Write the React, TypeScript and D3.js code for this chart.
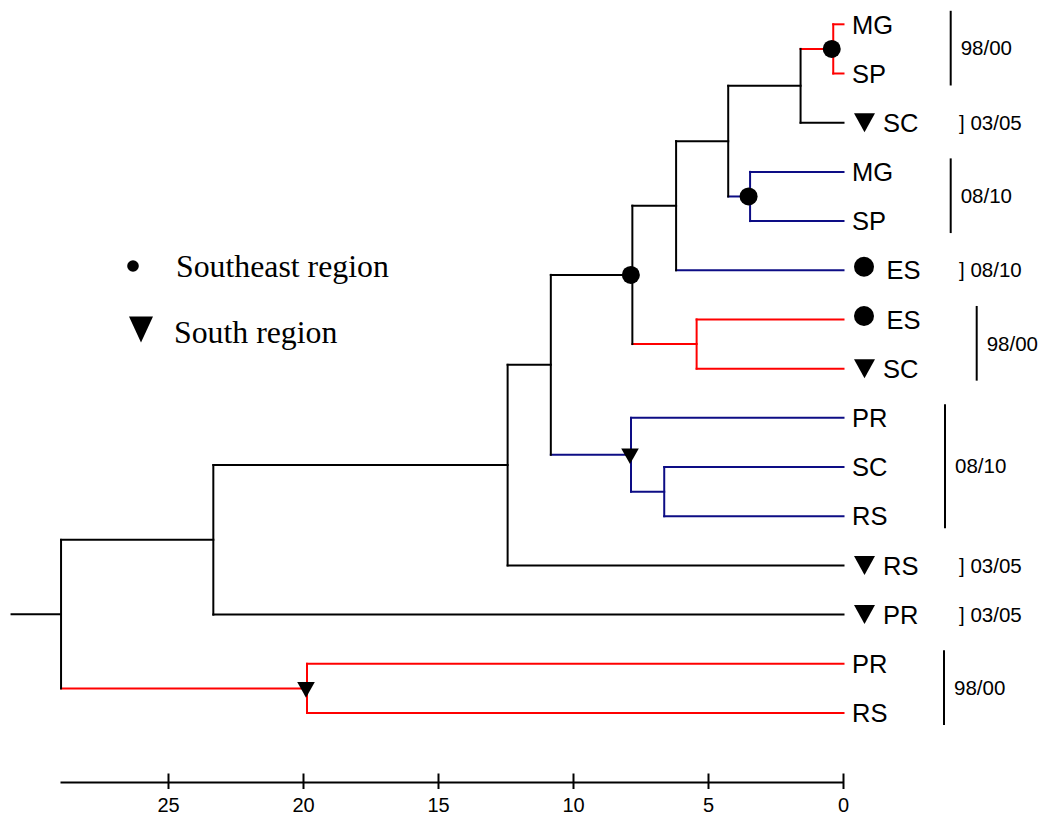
import React from "react";
import * as d3 from "d3";

// ---- Data ----
const leafLabels = ["MG", "SP", "SC", "MG", "SP", "ES", "ES", "SC", "PR", "SC", "RS", "RS", "PR", "PR", "RS"];
const leafParents = ["H", "H", "C", "G", "G", "E", "I", "I", "K", "L", "L", "M", "A", "B", "B"];
const leafColors = ["red", "red", "black", "blue", "blue", "blue", "red", "red", "blue", "blue", "blue", "black", "black", "red", "red"];
const leafMarkers = ["", "", "tri", "", "", "dot", "dot", "tri", "", "", "", "tri", "tri", "", ""];

const nodeIds = ["root", "A", "M", "J", "F", "E", "D", "C", "H", "G", "I", "K", "L", "B"];
const nodeAges = [28.98, 23.34, 12.44, 10.84, 7.82, 6.2, 4.27, 1.59, 0.38, 3.46, 5.44, 7.87, 6.64, 19.87];
const nodeParents = ["", "root", "A", "M", "J", "F", "E", "D", "C", "D", "F", "J", "K", "root"];
const nodeColors = ["black", "black", "black", "black", "black", "black", "black", "black", "red", "blue", "red", "blue", "blue", "red"];
const nodeMarkers = ["", "", "", "", "dot", "", "", "", "dot", "dot", "", "tri", "", "tri"];
const rootStubAge = 30.85;

const axisTicks = [0, 5, 10, 15, 20, 25];
const axisMax = 29;

const annoLabels = ["98/00", "03/05", "08/10", "08/10", "98/00", "08/10", "03/05", "03/05", "98/00"];
const annoFirstLeaf = [0, 2, 3, 5, 6, 8, 11, 12, 13];
const annoLastLeaf = [1, 2, 4, 5, 7, 10, 11, 12, 14];
const annoKinds = ["bar", "bracket", "bar", "bracket", "bar", "bar", "bracket", "bracket", "bar"];

const legendLabels = ["Southeast region", "South region"];
const legendMarkers = ["dot", "tri"];

// ---- Layout / style ----
const W = 1044;
const H = 816;
const annoBarPos = [950.7, 959, 950.7, 959, 976.7, 945, 959, 959, 944];
const palette: Record<string, string> = { red: "#ff0000", blue: "#0d0d85", black: "#000000" };
const SANS = "'Liberation Sans', Arial, Helvetica, sans-serif";
const SERIF = "'Liberation Serif', 'Times New Roman', serif";

const x = d3.scaleLinear().domain([axisMax, 0]).range([60.5, 843.5]);
const y = d3.scaleLinear().domain([0, leafLabels.length - 1]).range([24.3, 713]);

type Row = { id: string; parent: string; age: number; color: string; marker: string; leaf: number };

const rows: Row[] = [
  ...nodeIds.map((id, i) => ({ id, parent: nodeParents[i], age: nodeAges[i], color: nodeColors[i], marker: nodeMarkers[i], leaf: -1 })),
  ...leafLabels.map((_, i) => ({ id: "L" + i, parent: leafParents[i], age: 0, color: leafColors[i], marker: leafMarkers[i], leaf: i })),
];

const root = d3
  .stratify<Row>()
  .id((d) => d.id)
  .parentId((d) => (d.parent === "" ? null : d.parent))(rows);

const ypos = new Map<string, number>();
root.eachAfter((n) => {
  if (!n.children) ypos.set(n.data.id, y(n.data.leaf));
  else {
    const ys = n.children.map((c) => ypos.get(c.data.id) as number);
    ypos.set(n.data.id, ((d3.min(ys) as number) + (d3.max(ys) as number)) / 2);
  }
});

const triPath = (cx: number, cy: number, w: number, h: number) =>
  `M${cx - w / 2},${cy - h / 2}L${cx + w / 2},${cy - h / 2}L${cx},${cy + h / 2}Z`;

export default function App() {
  const nodes = root.descendants();
  const SW = 2;
  return (
    <svg width={W} height={H} style={{ position: "absolute", left: 0, top: 0, background: "#fff" }}>
      <rect width={W} height={H} fill="#fff" />
      {/* root stub */}
      <line x1={x(rootStubAge)} x2={x(root.data.age)} y1={ypos.get("root")} y2={ypos.get("root")} stroke="#000" strokeWidth={SW} />
      {/* horizontal branches */}
      {nodes
        .filter((n) => n.parent)
        .map((n) => (
          <line
            key={"h" + n.data.id}
            x1={x(n.parent!.data.age)}
            x2={x(n.data.age)}
            y1={ypos.get(n.data.id)}
            y2={ypos.get(n.data.id)}
            stroke={palette[n.data.color]}
            strokeWidth={SW}
            strokeLinecap="square"
          />
        ))}
      {/* vertical connectors */}
      {nodes
        .filter((n) => n.children)
        .map((n) => {
          const ys = n.children!.map((c) => ypos.get(c.data.id) as number);
          return (
            <line
              key={"v" + n.data.id}
              x1={x(n.data.age)}
              x2={x(n.data.age)}
              y1={d3.min(ys)}
              y2={d3.max(ys)}
              stroke={palette[n.data.color]}
              strokeWidth={SW}
              strokeLinecap="square"
            />
          );
        })}
      {/* node markers */}
      {nodes
        .filter((n) => n.children && n.data.marker)
        .map((n) => {
          const cx = x(n.data.age);
          const cy = ypos.get(n.data.id) as number;
          return n.data.marker === "dot" ? (
            <circle key={"m" + n.data.id} cx={cx - 1.5} cy={cy} r={9} fill="#000" />
          ) : (
            <path key={"m" + n.data.id} d={triPath(cx - 1, cy + 1.5, 17.6, 15.7)} fill="#000" />
          );
        })}
      {/* leaf labels */}
      {leafLabels.map((lab, i) => {
        const ly = y(i);
        const m = leafMarkers[i];
        const tx = m === "tri" ? 883 : m === "dot" ? 886.5 : 852;
        return (
          <g key={"leaf" + i}>
            {m === "tri" && <path d={triPath(864.5, ly, 21, 19)} fill="#000" />}
            {m === "dot" && <circle cx={864} cy={ly - 3.5} r={10} fill="#000" />}
            <text x={tx} y={ly + 9.2} fontFamily={SANS} fontSize={25.5} fill="#000">
              {lab}
            </text>
          </g>
        );
      })}
      {/* annotations */}
      {annoLabels.map((lab, i) => {
        const y1 = y(annoFirstLeaf[i]);
        const y2 = y(annoLastLeaf[i]);
        if (annoKinds[i] === "bracket") {
          return (
            <text key={"a" + i} x={annoBarPos[i]} y={y1 + 7.2} fontFamily={SANS} fontSize={20.5} fill="#000">
              {"] " + lab}
            </text>
          );
        }
        const top = y1 - 13.5;
        const bot = y2 + 12;
        return (
          <g key={"a" + i}>
            <line x1={annoBarPos[i]} x2={annoBarPos[i]} y1={top} y2={bot} stroke="#000" strokeWidth={2} />
            <text x={annoBarPos[i] + 10} y={(top + bot) / 2 + 7.2} fontFamily={SANS} fontSize={20.5} fill="#000">
              {lab}
            </text>
          </g>
        );
      })}
      {/* axis */}
      <g>
        <line x1={x(axisMax)} x2={x(0)} y1={782.5} y2={782.5} stroke="#000" strokeWidth={2} />
        {axisTicks.map((t) => (
          <g key={"t" + t}>
            <line x1={x(t)} x2={x(t)} y1={773.5} y2={789} stroke="#000" strokeWidth={2} />
            <text x={x(t)} y={811.5} textAnchor="middle" fontFamily={SANS} fontSize={20} fill="#000">
              {t}
            </text>
          </g>
        ))}
      </g>
      {/* legend */}
      {legendLabels.map((lab, i) => (
        <g key={"lg" + i}>
          {legendMarkers[i] === "dot" ? (
            <circle cx={133} cy={266} r={5.8} fill="#000" />
          ) : (
            <path d={triPath(141, 329.5, 24, 26)} fill="#000" />
          )}
          <text x={i === 0 ? 176 : 174} y={i === 0 ? 276.7 : 343.3} fontFamily={SERIF} fontSize={31.8} fill="#000">
            {lab}
          </text>
        </g>
      ))}
    </svg>
  );
}
